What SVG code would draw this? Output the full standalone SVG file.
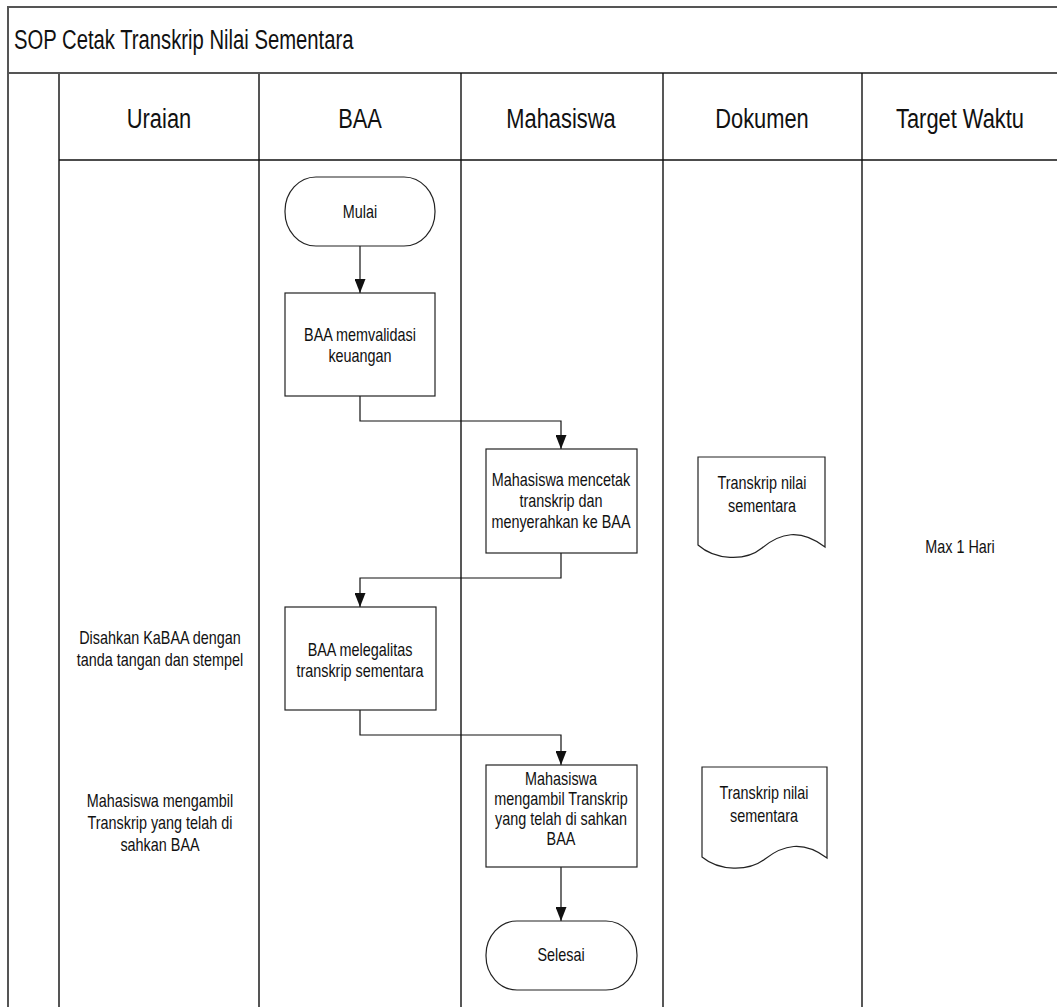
<svg xmlns="http://www.w3.org/2000/svg" width="1057" height="1007" viewBox="0 0 1057 1007">
<style>
text{font-family:"Liberation Sans",Arial,sans-serif;fill:#111;text-anchor:middle}
.t{font-size:27px;text-anchor:start}
.h{font-size:27px}
.n{font-size:18px}
.frame{fill:none;stroke:#555;stroke-width:2}
.col{fill:none;stroke:#111;stroke-width:1.4}
.shape{fill:#fff;stroke:#222;stroke-width:1.2}
.conn path{fill:none;stroke:#111;stroke-width:1.2;marker-end:url(#arr)}
</style>
<defs>
<marker id="arr" markerUnits="userSpaceOnUse" markerWidth="14" markerHeight="11" viewBox="0 0 14 11" refX="14" refY="5.5" orient="auto">
<path d="M0,0 L14,5.5 L0,11 z" fill="#111"/>
</marker>
</defs>
<rect width="1057" height="1007" fill="#fff"/>
<g id="frame">
<rect class="frame" x="8" y="7" width="1060" height="66"/>
<line class="frame" x1="8" y1="73" x2="8" y2="1010"/>
<line class="frame" x1="59" y1="73" x2="59" y2="1010"/>
<line class="frame" x1="259" y1="73" x2="259" y2="1010"/>
<line class="col" x1="461" y1="73" x2="461" y2="1010"/>
<line class="col" x1="663" y1="73" x2="663" y2="1010"/>
<line class="col" x1="862" y1="73" x2="862" y2="1010"/>
<line class="col" x1="59" y1="160" x2="1060" y2="160"/>
<text class="t" transform="translate(14,49) scale(0.75,1)">SOP Cetak Transkrip Nilai Sementara</text>
<text class="h" transform="translate(159,128) scale(0.81,1)">Uraian</text>
<text class="h" transform="translate(360,128) scale(0.81,1)">BAA</text>
<text class="h" transform="translate(561,128) scale(0.81,1)">Mahasiswa</text>
<text class="h" transform="translate(762,128) scale(0.81,1)">Dokumen</text>
<text class="h" transform="translate(960,128) scale(0.81,1)">Target Waktu</text>
</g>
<g class="conn" id="connectors">
<path d="M360,246 V293"/>
<path d="M360,396 V421 H561 V449"/>
<path d="M561,553 V578 H360 V607"/>
<path d="M360,710 V735 H561 V765"/>
<path d="M561,867 V921"/>
</g>
<g id="mulai">
<rect class="shape" x="285" y="177" width="150" height="69" rx="31" ry="34"/>
<text class="n" transform="translate(360,218) scale(0.8,1)">Mulai</text>
</g>
<g id="validasi">
<rect class="shape" x="285" y="293" width="150" height="103"/>
<text class="n" transform="translate(360,341) scale(0.8,1)">BAA memvalidasi</text>
<text class="n" transform="translate(360,362) scale(0.8,1)">keuangan</text>
</g>
<g id="cetak">
<rect class="shape" x="486" y="449" width="151" height="104"/>
<text class="n" transform="translate(561,486) scale(0.8,1)">Mahasiswa mencetak</text>
<text class="n" transform="translate(561,507) scale(0.8,1)">transkrip dan</text>
<text class="n" transform="translate(561,528) scale(0.8,1)">menyerahkan ke BAA</text>
</g>
<g id="doc1">
<path class="shape" d="M698,457 H825 V547 C800,528 780,533 762,548 C745,562 715,560 698,545 Z"/>
<text class="n" transform="translate(762,489) scale(0.8,1)">Transkrip nilai</text>
<text class="n" transform="translate(762,512) scale(0.8,1)">sementara</text>
</g>
<g id="target">
<text class="n" transform="translate(960,553) scale(0.8,1)">Max 1 Hari</text>
</g>
<g id="uraian1">
<text class="n" transform="translate(160,644) scale(0.8,1)">Disahkan KaBAA dengan</text>
<text class="n" transform="translate(160,666) scale(0.8,1)">tanda tangan dan stempel</text>
</g>
<g id="legalitas">
<rect class="shape" x="285" y="607" width="151" height="103"/>
<text class="n" transform="translate(360,656) scale(0.8,1)">BAA melegalitas</text>
<text class="n" transform="translate(360,677) scale(0.8,1)">transkrip sementara</text>
</g>
<g id="uraian2">
<text class="n" transform="translate(160,807) scale(0.8,1)">Mahasiswa mengambil</text>
<text class="n" transform="translate(160,829) scale(0.8,1)">Transkrip yang telah di</text>
<text class="n" transform="translate(160,851) scale(0.8,1)">sahkan BAA</text>
</g>
<g id="ambil">
<rect class="shape" x="486" y="765" width="151" height="102"/>
<text class="n" transform="translate(561,785) scale(0.8,1)">Mahasiswa</text>
<text class="n" transform="translate(561,805) scale(0.8,1)">mengambil Transkrip</text>
<text class="n" transform="translate(561,825) scale(0.8,1)">yang telah di sahkan</text>
<text class="n" transform="translate(561,845) scale(0.8,1)">BAA</text>
</g>
<g id="doc2">
<path class="shape" d="M702,767 H827 V858 C803,840 783,845 765,859 C748,872 719,871 702,857 Z"/>
<text class="n" transform="translate(764,799) scale(0.8,1)">Transkrip nilai</text>
<text class="n" transform="translate(764,822) scale(0.8,1)">sementara</text>
</g>
<g id="selesai">
<rect class="shape" x="486" y="921" width="151" height="69" rx="31" ry="34"/>
<text class="n" transform="translate(561,961) scale(0.8,1)">Selesai</text>
</g>
</svg>
